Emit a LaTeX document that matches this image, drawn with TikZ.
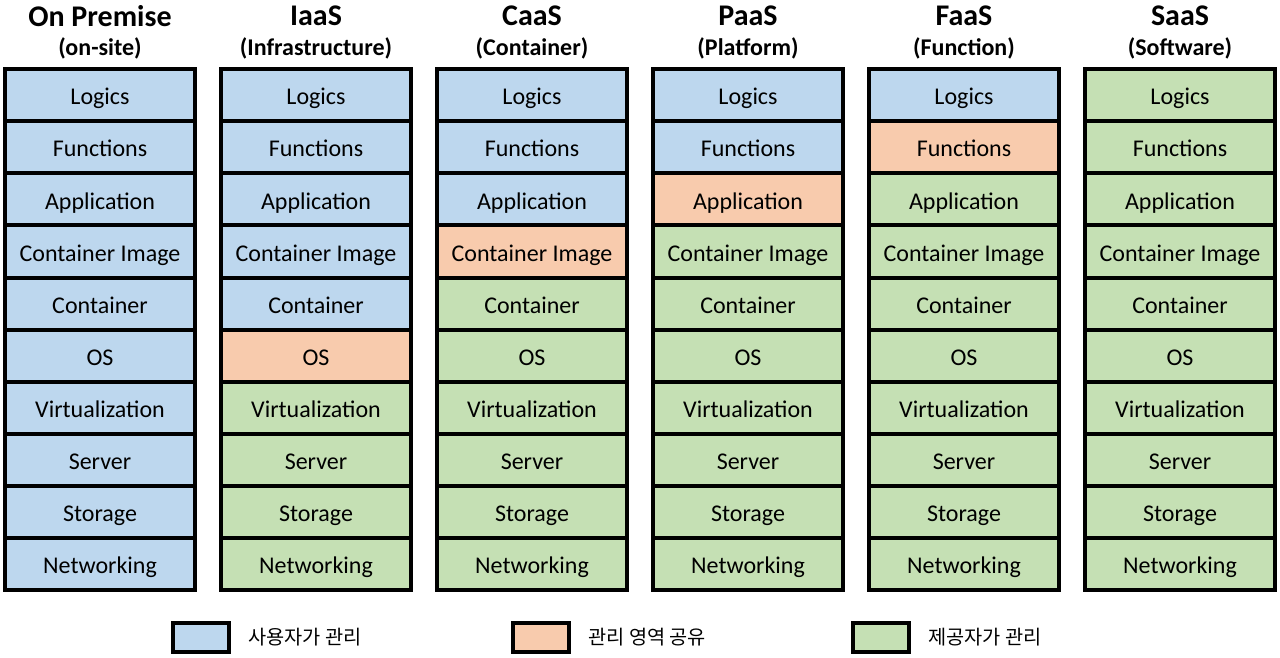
\documentclass[tikz,border=0pt]{standalone}
\usepackage{fontspec}
\setmainfont{Carlito}
\newfontfamily\krfont{Noto Sans CJK KR}
\usetikzlibrary{positioning}

\definecolor{usercol}{HTML}{BDD7EE}
\definecolor{sharecol}{HTML}{F8CBAD}
\definecolor{provcol}{HTML}{C5E0B4}

\tikzset{
  layer/.style={draw, line width=3pt, minimum width=142.5pt, minimum height=39.1pt,
    inner sep=0pt, outer sep=0pt, text height=15pt, text depth=0.5pt,
    font=\fontsize{18}{20}\selectfont},
  title/.style={font=\bfseries\fontsize{22.5}{24}\selectfont},
  subtitle/.style={font=\bfseries\fontsize{18}{20}\selectfont},
  keybox/.style={draw, line width=3pt, minimum width=42pt, minimum height=21.75pt, inner sep=0pt},
  keytext/.style={font=\krfont\fontsize{14.8}{16}\selectfont, inner sep=0pt},
}

\begin{document}
\begin{tikzpicture}[x=0.75pt, y=-0.75pt]
\useasboundingbox (0,0) rectangle (1280,657);

% service models, one column each
\foreach \col/\ttl/\sub/\nb/\np [count=\c from 0] in {onprem/On Premise/on-site/10/-1,
    iaas/IaaS/Infrastructure/5/5, caas/CaaS/Container/3/3, paas/PaaS/Platform/2/2,
    faas/FaaS/Function/1/1, saas/SaaS/Software/0/-1}{
  \node[title] (\col-title) at (100+216*\c, 16) {\ttl};
  \node[subtitle] (\col-sub) at (100+216*\c, 48) {(\sub)};
  \foreach \lbl [count=\r from 0] in {Logics, Functions, Application, Container Image,
      Container, OS, Virtualization, Server, Storage, Networking}{
    \ifnum\r<\nb\relax \def\fillcol{usercol}%
    \else\ifnum\r=\np\relax \def\fillcol{sharecol}%
    \else \def\fillcol{provcol}\fi\fi
    \ifnum\r=0
      \node[layer, fill=\fillcol] (\col-0) at (100+216*\c, 95.1) {\lbl};
    \else
      \pgfmathtruncatemacro\prev{\r-1}
      \node[layer, fill=\fillcol, below=0pt of \col-\prev] (\col-\r) {\lbl};
    \fi
  }
}

% legend
\node[keybox, fill=usercol] (key-user) at (201,637.5) {};
\node[keytext, right=12.75pt of key-user] (key-user-txt) {사용자가 관리};
\node[keybox, fill=sharecol] (key-share) at (541,637.5) {};
\node[keytext, right=12.75pt of key-share] (key-share-txt) {관리 영역 공유};
\node[keybox, fill=provcol] (key-prov) at (881,637.5) {};
\node[keytext, right=12.75pt of key-prov] (key-prov-txt) {제공자가 관리};
\end{tikzpicture}
\end{document}
